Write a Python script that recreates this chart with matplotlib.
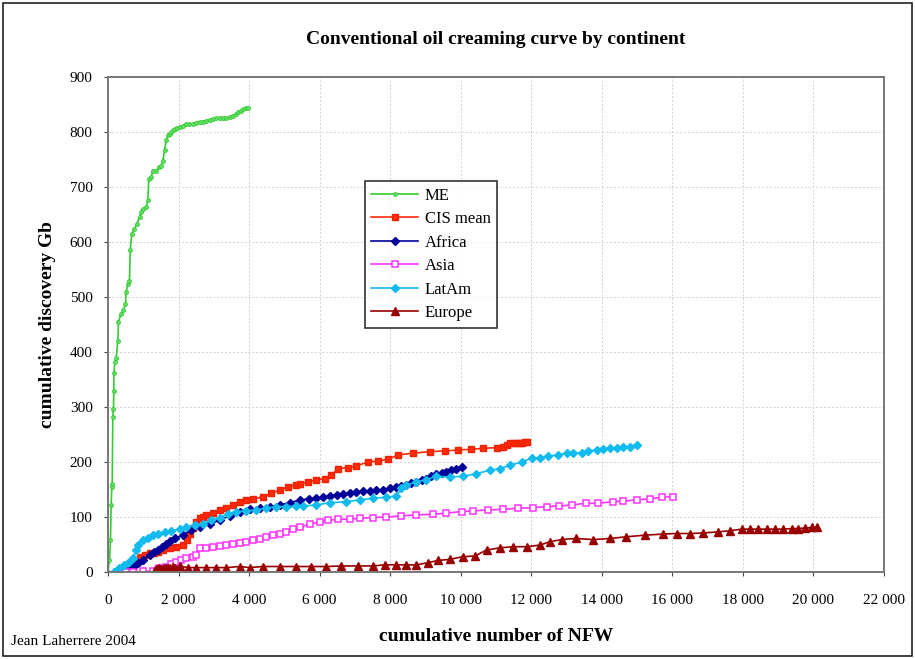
import matplotlib
matplotlib.use("Agg")
import matplotlib.pyplot as plt
from matplotlib.ticker import FuncFormatter

# --- DATA ---
me_x = [0, 43, 71, 90, 110, 120, 137, 156, 165, 170, 193, 233, 280, 298, 375, 440, 497, 516,
        563, 610, 630, 675, 752, 818, 894, 942, 988, 1084, 1130, 1158, 1226, 1271, 1368, 1442,
        1510, 1555, 1603, 1652, 1697, 1750, 1794, 1840, 1887, 1950, 2029, 2120, 2219, 2310,
        2407, 2500, 2597, 2690, 2787, 2880, 2975, 3070, 3164, 3260, 3354, 3450, 3542, 3620,
        3684, 3760, 3826, 3900, 3968]
me_y = [0, 22, 58, 122, 155, 160, 282, 297, 330, 361, 382, 389, 421, 455, 470, 476, 488, 509,
        524, 530, 585, 615, 624, 633, 645, 654, 660, 664, 676, 715, 718, 730, 730, 736,
        739, 748, 767, 785, 794, 797, 800, 803, 806, 808, 809, 811, 814, 814,
        815, 817, 818, 819, 821, 822, 824, 825, 826, 826, 826, 827, 830, 832,
        836, 839, 842, 843, 844]

cis_x = [704, 800, 894, 942, 1036, 1178, 1300, 1413, 1555, 1745, 1935, 2123, 2237, 2313, 2400,
         2503, 2600, 2690, 2787, 2975, 3164, 3354, 3542, 3732, 3922, 4110, 4393, 4632, 4867,
         5103, 5341, 5435, 5670, 5909, 6144, 6334, 6522, 6806, 7044, 7373, 7657, 7940, 8224,
         8650, 9124, 9550, 9927, 10307, 10637, 11017, 11200, 11301, 11394, 11500, 11600,
         11680, 11750, 11820, 11880]
cis_y = [4, 16, 25, 27, 31, 34, 35, 37, 40, 43, 46, 49, 58, 70, 80,
         91, 98, 100, 103, 107, 113, 116, 122, 128, 131, 132, 137, 143, 149,
         155, 159, 160, 164, 167, 170, 176, 188, 190, 193, 200, 202, 205, 213,
         216, 219, 220, 222, 223, 225, 226, 228, 231, 235, 235, 235,
         235, 235, 236, 236]

africa_x = [326, 500, 704, 850, 988, 1178, 1300, 1413, 1530, 1652, 1770, 1887, 2123, 2361, 2597,
            2880, 3164, 3448, 3732, 4016, 4299, 4583, 4867, 5150, 5434, 5700, 5909, 6100, 6286,
            6480, 6664, 6850, 7044, 7230, 7421, 7600, 7799, 8000, 8178, 8320, 8462, 8600, 8746,
            8890, 9030, 9170, 9314, 9460, 9598, 9740, 9882, 10024]
africa_y = [0, 4, 10, 16, 22, 31, 36, 40, 45, 51, 56, 61, 67, 76, 81,
            87, 94, 102, 110, 114, 116, 119, 122, 126, 131, 133, 134, 136, 138,
            140, 142, 144, 146, 147, 148, 149, 150, 152, 154, 156, 158, 161, 164,
            167, 170, 174, 178, 180, 182, 185, 188, 191]

asia_x = [517, 704, 988, 1271, 1461, 1652, 1794, 1935, 2077, 2219, 2407, 2503, 2597, 2787, 2975,
          3164, 3354, 3542, 3732, 3922, 4110, 4299, 4490, 4677, 4867, 5057, 5245, 5434, 5719,
          6003, 6238, 6522, 6854, 7137, 7515, 7894, 8320, 8746, 9218, 9598, 10024, 10354,
          10780, 11205, 11630, 12056, 12435, 12793, 13145, 13551, 13901, 14326, 14610, 14990,
          15368, 15700, 16029]
asia_y = [0, 0, 1, 2, 7, 10, 15, 19, 22, 25, 27, 31, 43, 43, 45,
          47, 49, 51, 52, 55, 58, 60, 64, 67, 70, 73, 78, 81, 87,
          91, 94, 96, 96, 98, 99, 100, 102, 104, 105, 107, 110, 111,
          113, 114, 116, 117, 119, 120, 122, 125, 125, 128, 129, 131,
          133, 136, 137]

latam_x = [184, 326, 468, 610, 704, 800, 846, 988, 1130, 1271, 1413, 1603, 1794, 2029, 2219,
           2455, 2690, 2929, 3164, 3400, 3638, 3922, 4206, 4490, 4773, 5057, 5341, 5528, 5909,
           6286, 6759, 7137, 7515, 7894, 8178, 8320, 8462, 8746, 9030, 9314, 9692, 10070,
           10449, 10826, 11110, 11394, 11727, 12010, 12246, 12482, 12765, 13004, 13192, 13430,
           13617, 13855, 14042, 14232, 14422, 14610, 14800, 14990]
latam_y = [0, 7, 13, 19, 25, 40, 49, 58, 61, 67, 70, 73, 75, 78, 81,
           85, 88, 94, 99, 105, 110, 111, 113, 116, 119, 119, 120, 120, 122,
           126, 128, 131, 134, 136, 138, 152, 158, 164, 168, 174, 173, 174,
           179, 185, 188, 194, 200, 207, 208, 211, 213, 216, 216, 217,
           220, 222, 223, 225, 225, 228, 228, 231]

europe_x = [1320, 1340, 1370, 1400, 1430, 1461, 1500, 1550, 1600, 1652, 1700, 1750, 1840, 1900,
            2029, 2265, 2503, 2787, 3070, 3354, 3732, 4016, 4393, 4867, 5341, 5767, 6192, 6618,
            7089, 7515, 7847, 8178, 8462, 8746, 9077, 9361, 9692, 10070, 10401, 10733, 11110,
            11488, 11868, 12246, 12529, 12861, 13268, 13760, 14232, 14686, 15226, 15745, 16125,
            16503, 16880, 17306, 17637, 17970, 18205, 18441, 18677, 18914, 19150, 19387, 19576,
            19767, 19956, 20115]
europe_y = [0, 3, 4, 5, 5, 7, 5, 6, 7, 8, 7, 8, 10, 8,
            11, 8, 8, 8, 8, 8, 10, 8, 10, 10, 10, 10, 10, 11,
            11, 11, 13, 13, 13, 13, 17, 21, 23, 28, 29, 40, 44,
            46, 46, 49, 55, 59, 61, 59, 61, 64, 67, 69, 70,
            70, 71, 73, 75, 78, 78, 78, 78, 78, 78, 79, 79,
            80, 81, 81]

x_ticks = list(range(0, 22001, 2000))
y_ticks = list(range(0, 901, 100))

# --- FIGURE ---
plt.rcParams['font.family'] = ['Liberation Serif', 'DejaVu Serif']

fig = plt.figure(figsize=(9.15, 6.59), dpi=100)
ax = fig.add_axes([0.118, 0.132, 0.848, 0.751])

# Excel-ish series styles
ax.plot(me_x, me_y, color='#33cc33', lw=1.2, marker='o', ms=2.8, mfc='#66dd66', mec='#33cc33', mew=0.6, label='ME')
ax.plot(cis_x, cis_y, color='#ff2a0a', lw=1.2, marker='s', ms=5, mec='#ee2200', label='CIS mean')
ax.plot(africa_x, africa_y, color='#000099', lw=1.2, marker='D', ms=4, label='Africa')
ax.plot(asia_x, asia_y, color='#ff33ff', lw=1.2, marker='s', ms=4.5, mfc='white', mec='#ff33ff', mew=1.1, label='Asia')
ax.plot(latam_x, latam_y, color='#11bbee', lw=1.2, marker='D', ms=4.3, label='LatAm')
ax.plot(europe_x, europe_y, color='#990000', lw=1.2, marker='^', ms=5.5, label='Europe')

ax.set_xlim(0, 22000)
ax.set_ylim(0, 900)
ax.set_xticks(x_ticks)
ax.set_yticks(y_ticks)
ax.xaxis.set_major_formatter(FuncFormatter(lambda v, p: f"{int(v):,}".replace(",", " ")))
ax.tick_params(axis='both', labelsize=11, length=3, color='#444444')
ax.tick_params(axis='x', pad=13)
ax.tick_params(axis='y', pad=8)

ax.grid(True, color='#d0d0d0', lw=0.7, linestyle=(0, (2, 2)))
ax.set_axisbelow(True)
for side in ['top', 'right', 'bottom', 'left']:
    ax.spines[side].set_color('#777777')
    ax.spines[side].set_linewidth(1.4)

ax.set_title("Conventional oil creaming curve by continent", fontsize=14, fontweight='bold', pad=24)
ax.set_xlabel("cumulative number of NFW", fontsize=14, fontweight='bold', labelpad=15)
ax.set_ylabel("cumulative discovery Gb", fontsize=14, fontweight='bold', labelpad=10)

leg = ax.legend(loc='upper left', bbox_to_anchor=(0.331, 0.79), fontsize=12, frameon=True,
                fancybox=False, edgecolor='black', handlelength=2.8, borderpad=0.4,
                labelspacing=0.45, handletextpad=0.4, borderaxespad=0)
leg.get_frame().set_linewidth(1.2)

fig.text(0.012, 0.022, "Jean Laherrere 2004", fontsize=11)

# outer frame around the whole chart
fig.patches.append(plt.Rectangle((0.003, 0.004), 0.994, 0.992, transform=fig.transFigure,
                                 fill=False, edgecolor='#222222', lw=1.2))

plt.savefig("out.png", dpi=100)
